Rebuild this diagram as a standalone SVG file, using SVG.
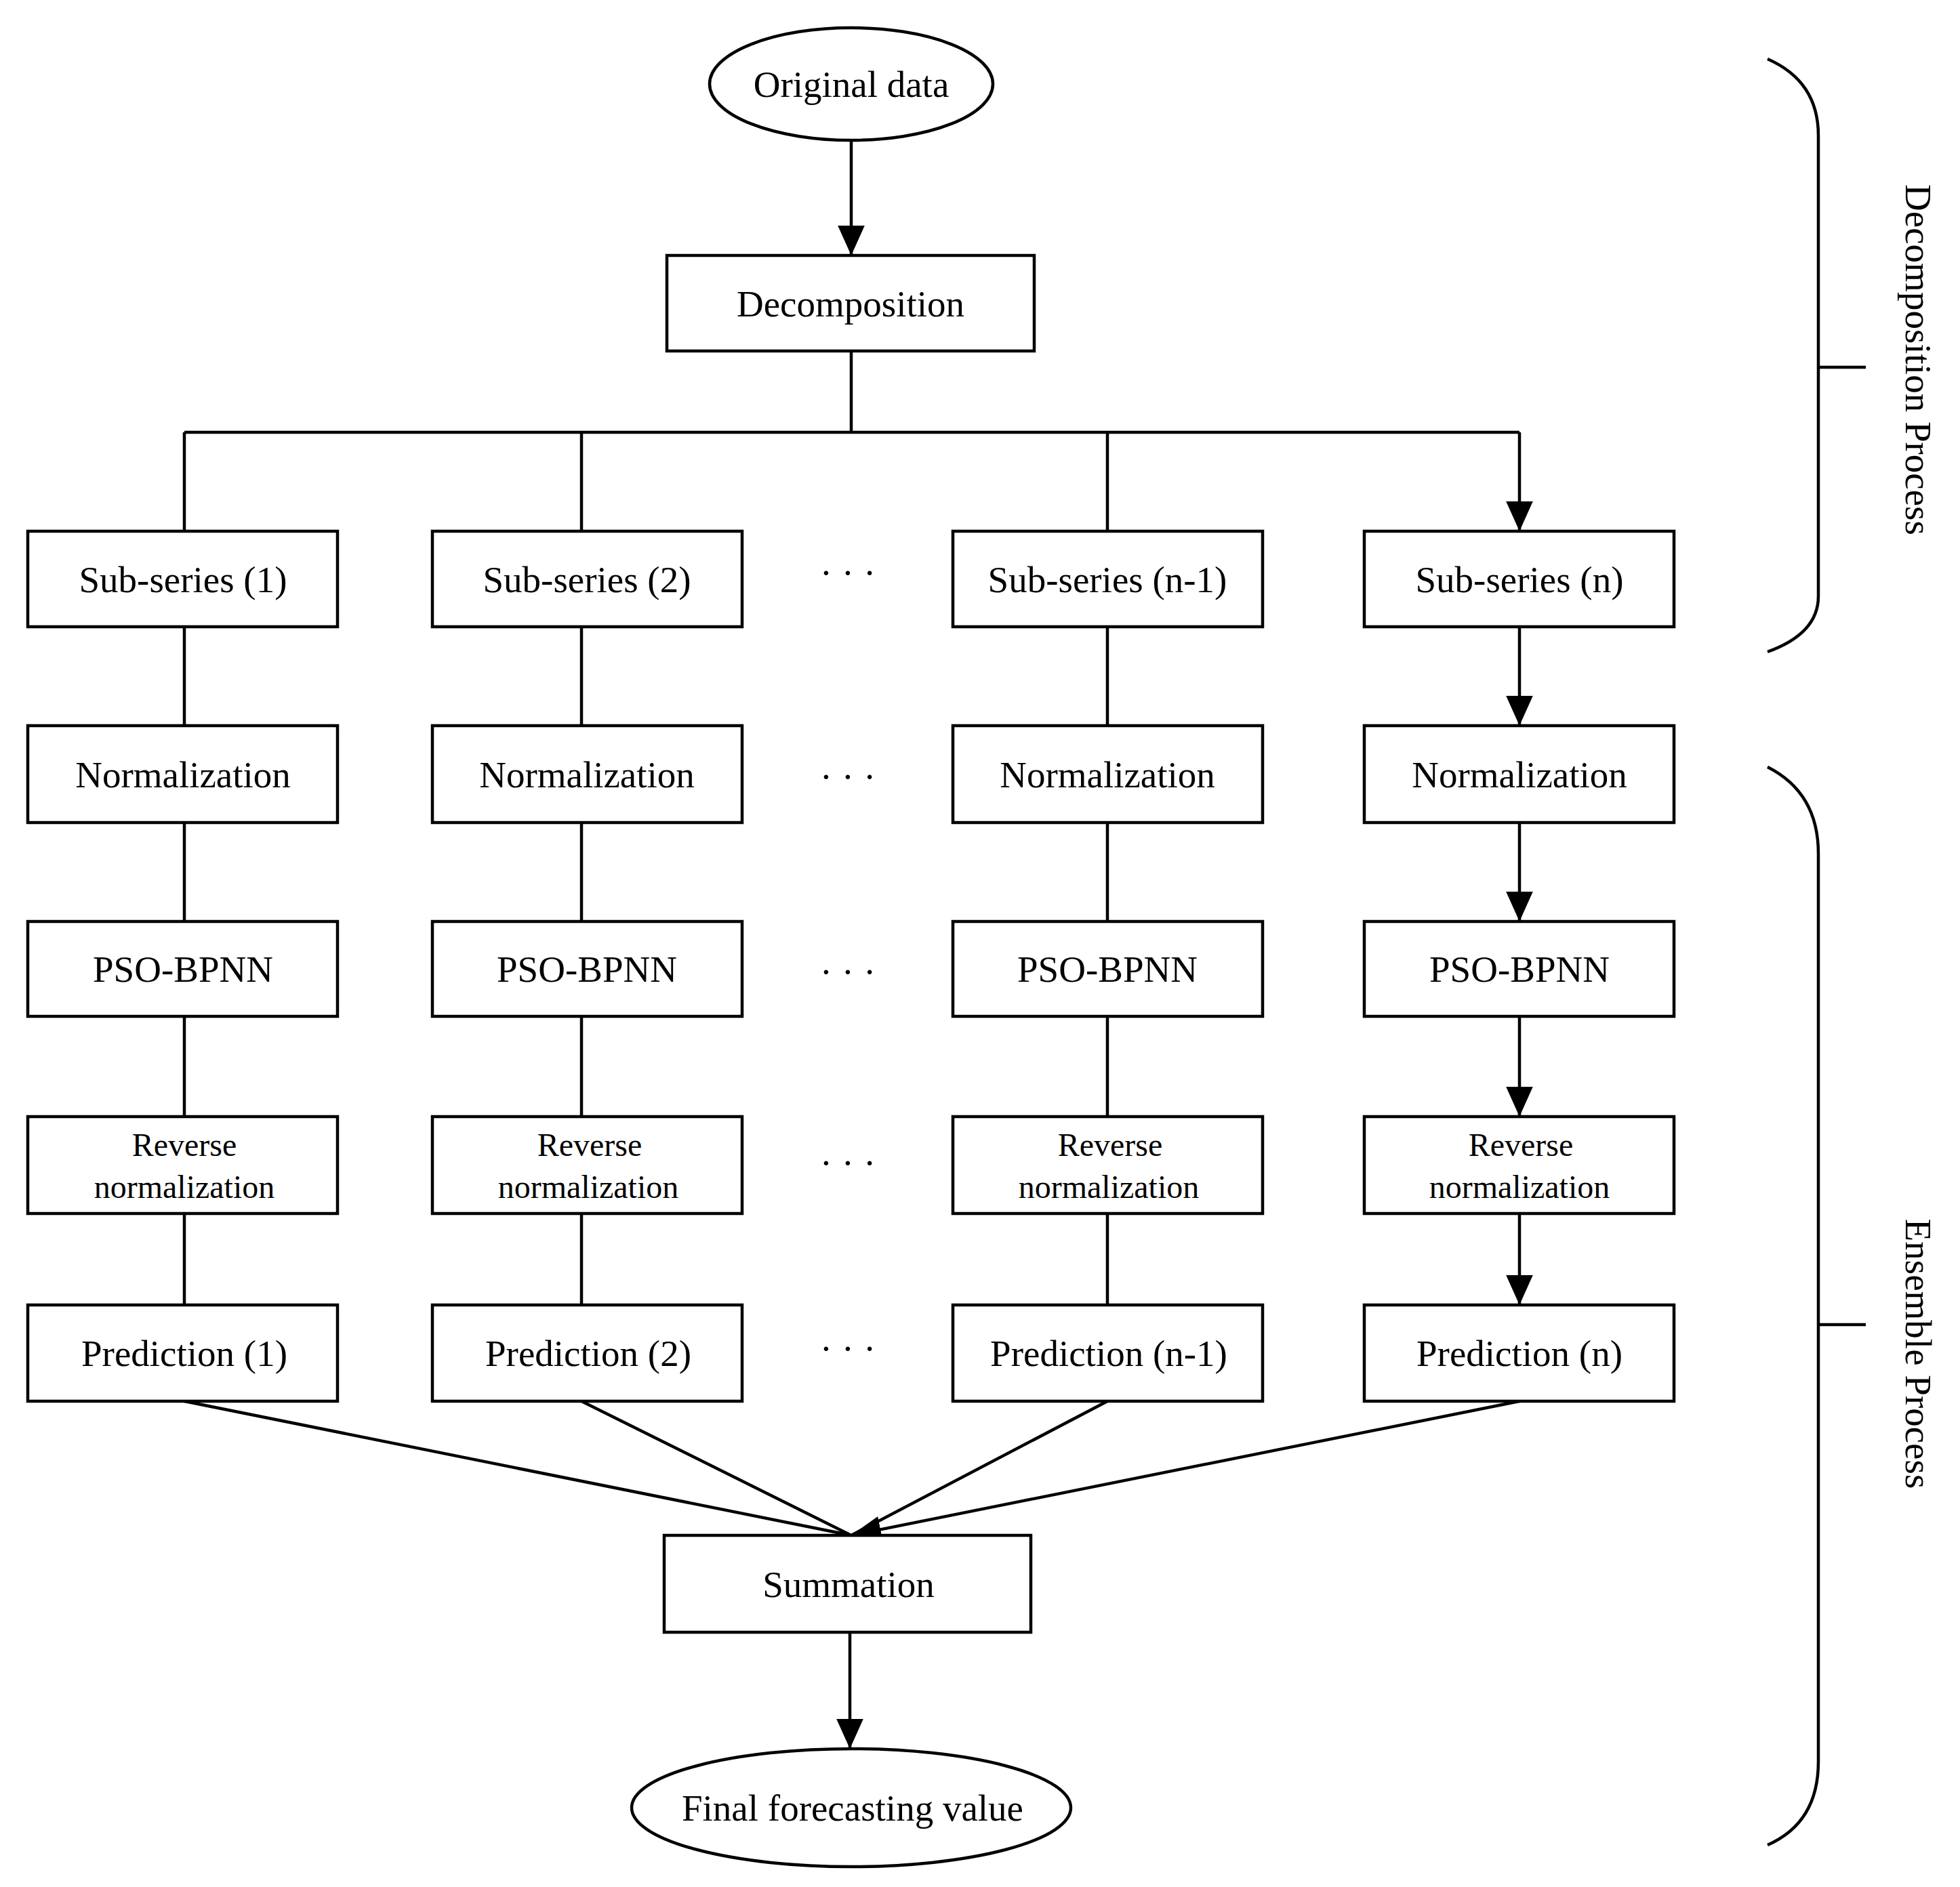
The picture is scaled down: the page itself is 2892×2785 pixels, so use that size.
<svg xmlns="http://www.w3.org/2000/svg" width="2892" height="2785" viewBox="0 0 2892 2785">
<style>
.b{fill:#fff;stroke:#000;stroke-width:4.5}
.t{font-family:"Liberation Serif",serif;font-size:55px;text-anchor:middle;dominant-baseline:central;fill:#000}
.s{font-size:48px}
.c{fill:none;stroke:#000;stroke-width:4.5}
</style>
<defs><marker id="a" markerWidth="10" markerHeight="10" refX="9" refY="5" orient="auto" markerUnits="userSpaceOnUse" viewBox="0 0 10 10"><path d="M0,0L10,5L0,10z"/></marker>
<marker id="m" viewBox="0 0 10 10" refX="10" refY="5" markerWidth="44" markerHeight="44" markerUnits="userSpaceOnUse" orient="auto"><path d="M0,0.5L10,5L0,9.5z"/></marker></defs>
<rect width="2892" height="2785" fill="#fff"/>
<g id="connectors" class="c">
<path d="M1256,207V377" marker-end="url(#m)"/>
<path d="M1256,518V638M272,638H2242"/>
<path d="M272,638V784M858,638V784M1634,638V784M2242,638V784" marker-end="url(#m)"/>
<path d="M272,925V1071M858,925V1071M1634,925V1071M2242,925V1071" marker-end="url(#m)"/>
<path d="M272,1214V1360M858,1214V1360M1634,1214V1360M2242,1214V1360" marker-end="url(#m)"/>
<path d="M272,1500V1648M858,1500V1648M1634,1500V1648M2242,1500V1648" marker-end="url(#m)"/>
<path d="M272,1791V1926M858,1791V1926M1634,1791V1926M2242,1791V1926" marker-end="url(#m)"/>
<path d="M272,2068L1256,2266M858,2068L1256,2266M1634,2068L1256,2266M2242,2068L1256,2266" marker-end="url(#m)"/>
<path d="M1254,2409V2581" marker-end="url(#m)"/>
</g>
<g id="n-orig"><ellipse class="b" cx="1256" cy="124" rx="209" ry="83"/><text class="t" x="1256" y="124">Original data</text></g>
<g id="n-dec"><rect class="b" x="984" y="377" width="542" height="141"/><text class="t" x="1255" y="448">Decomposition</text></g>
<g id="n-sub1"><rect class="b" x="41" y="784" width="457" height="141"/><text class="t" x="270" y="855">Sub-series (1)</text></g>
<g id="n-sub2"><rect class="b" x="638" y="784" width="457" height="141"/><text class="t" x="866" y="855">Sub-series (2)</text></g>
<g id="n-sub3"><rect class="b" x="1406" y="784" width="457" height="141"/><text class="t" x="1634" y="855">Sub-series (n-1)</text></g>
<g id="n-sub4"><rect class="b" x="2013" y="784" width="457" height="141"/><text class="t" x="2242" y="855">Sub-series (n)</text></g>
<g id="n-nor1"><rect class="b" x="41" y="1071" width="457" height="143"/><text class="t" x="270" y="1143">Normalization</text></g>
<g id="n-nor2"><rect class="b" x="638" y="1071" width="457" height="143"/><text class="t" x="866" y="1143">Normalization</text></g>
<g id="n-nor3"><rect class="b" x="1406" y="1071" width="457" height="143"/><text class="t" x="1634" y="1143">Normalization</text></g>
<g id="n-nor4"><rect class="b" x="2013" y="1071" width="457" height="143"/><text class="t" x="2242" y="1143">Normalization</text></g>
<g id="n-pso1"><rect class="b" x="41" y="1360" width="457" height="140"/><text class="t" x="270" y="1430">PSO-BPNN</text></g>
<g id="n-pso2"><rect class="b" x="638" y="1360" width="457" height="140"/><text class="t" x="866" y="1430">PSO-BPNN</text></g>
<g id="n-pso3"><rect class="b" x="1406" y="1360" width="457" height="140"/><text class="t" x="1634" y="1430">PSO-BPNN</text></g>
<g id="n-pso4"><rect class="b" x="2013" y="1360" width="457" height="140"/><text class="t" x="2242" y="1430">PSO-BPNN</text></g>
<g id="n-rev1"><rect class="b" x="41" y="1648" width="457" height="143"/><text class="t s" x="272" y="1689">Reverse</text><text class="t s" x="272" y="1751">normalization</text></g>
<g id="n-rev2"><rect class="b" x="638" y="1648" width="457" height="143"/><text class="t s" x="870" y="1689">Reverse</text><text class="t s" x="868" y="1751">normalization</text></g>
<g id="n-rev3"><rect class="b" x="1406" y="1648" width="457" height="143"/><text class="t s" x="1638" y="1689">Reverse</text><text class="t s" x="1636" y="1751">normalization</text></g>
<g id="n-rev4"><rect class="b" x="2013" y="1648" width="457" height="143"/><text class="t s" x="2244" y="1689">Reverse</text><text class="t s" x="2242" y="1751">normalization</text></g>
<g id="n-pre1"><rect class="b" x="41" y="1926" width="457" height="142"/><text class="t" x="272" y="1997">Prediction (1)</text></g>
<g id="n-pre2"><rect class="b" x="638" y="1926" width="457" height="142"/><text class="t" x="868" y="1997">Prediction (2)</text></g>
<g id="n-pre3"><rect class="b" x="1406" y="1926" width="457" height="142"/><text class="t" x="1636" y="1997">Prediction (n-1)</text></g>
<g id="n-pre4"><rect class="b" x="2013" y="1926" width="457" height="142"/><text class="t" x="2242" y="1997">Prediction (n)</text></g>
<g id="n-sum"><rect class="b" x="980" y="2266" width="541" height="143"/><text class="t" x="1252" y="2338">Summation</text></g>
<g id="n-final"><ellipse class="b" cx="1256" cy="2668" rx="324" ry="87"/><text class="t" x="1258" y="2668">Final forecasting value</text></g>
<g id="dots" class="t"><text x="1251" y="845">· · ·</text><text x="1251" y="1146">· · ·</text><text x="1251" y="1434">· · ·</text><text x="1251" y="1716">· · ·</text><text x="1251" y="1990">· · ·</text></g>
<g id="braces" class="c">
<path d="M2608,87Q2683,120 2683,200V880Q2683,935 2608,962M2683,542H2753"/>
<path d="M2608,1132Q2683,1170 2683,1260V2600Q2683,2690 2608,2723M2683,1955H2753"/>
</g>
<g id="labels"><text class="t" transform="translate(2830,531) rotate(90)">Decomposition Process</text><text class="t" transform="translate(2830,1998) rotate(90)">Ensemble Process</text></g>
</svg>
